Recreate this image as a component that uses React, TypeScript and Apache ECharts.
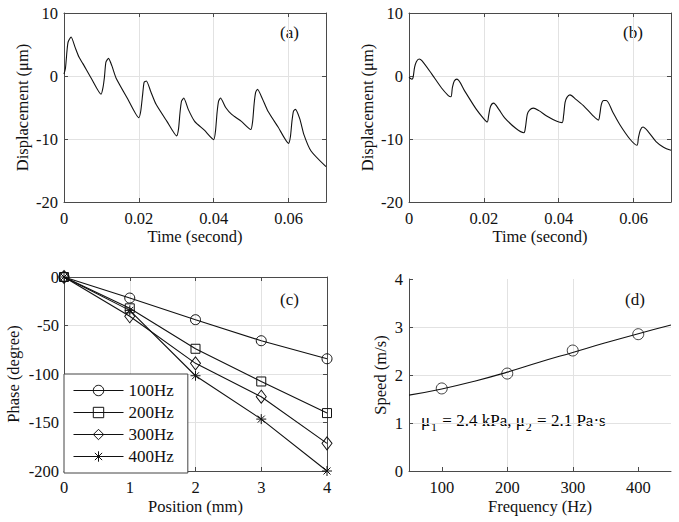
import React, { useEffect, useRef } from "react";
import * as echarts from "echarts";

const FONT = '"Liberation Serif", "Times New Roman", serif';
const INK = "#111";
const AXIS = "#4a4a4a";
const GRIDC = "#e2e2e2";

// Panel (a): displacement vs time
const timeA = [0, 0.0004, 0.0008, 0.0011, 0.0019, 0.003, 0.004, 0.005, 0.0075, 0.0099, 0.0104, 0.0108, 0.0112, 0.0119, 0.0128, 0.0139, 0.017, 0.02, 0.0205, 0.021, 0.0214, 0.022, 0.0232, 0.0246, 0.0275, 0.0301, 0.0306, 0.031, 0.0314, 0.032, 0.0332, 0.0349, 0.0375, 0.04, 0.0405, 0.0409, 0.0413, 0.0418, 0.0432, 0.0448, 0.0474, 0.0499, 0.0504, 0.0508, 0.0512, 0.0517, 0.053, 0.0545, 0.0572, 0.06, 0.0605, 0.0609, 0.0613, 0.0618, 0.063, 0.0641, 0.066, 0.07];
const dispA = [0.3, 1.3, 4.0, 5.4, 6.2, 4.5, 3.0, 2.0, -0.6, -2.9, -1.9, -0.2, 2.2, 2.8, 1.6, -0.3, -3.6, -6.6, -5.6, -3.0, -1.0, -0.8, -2.5, -4.5, -7.2, -9.5, -8.4, -5.8, -4.0, -3.5, -5.3, -7.2, -8.6, -10.1, -8.6, -5.8, -4.0, -3.5, -5.0, -6.1, -7.2, -8.5, -7.2, -4.4, -2.6, -2.1, -3.6, -5.6, -8.1, -10.7, -9.6, -7.2, -5.6, -5.3, -6.8, -9.3, -11.9, -14.4];

// Panel (b): displacement vs time
const timeB = [0, 0.0004, 0.0008, 0.0011, 0.0015, 0.002, 0.0027, 0.0035, 0.0061, 0.0087, 0.0105, 0.0112, 0.0116, 0.0121, 0.0128, 0.0149, 0.018, 0.02, 0.0209, 0.0213, 0.0218, 0.0226, 0.024, 0.0255, 0.0285, 0.0307, 0.0311, 0.0316, 0.0322, 0.0332, 0.0347, 0.0369, 0.0395, 0.0409, 0.0413, 0.0417, 0.0422, 0.043, 0.0446, 0.0466, 0.049, 0.0506, 0.051, 0.0514, 0.052, 0.0527, 0.0545, 0.0563, 0.059, 0.0609, 0.0613, 0.0618, 0.0625, 0.064, 0.066, 0.068, 0.07];
const dispB = [-0.2, -0.4, -0.5, -0.2, 1.4, 2.3, 2.7, 2.4, 0.3, -1.9, -3.1, -3.3, -1.8, -0.8, -0.5, -2.4, -5.3, -6.8, -7.3, -6.2, -4.8, -4.3, -5.3, -6.6, -8.3, -9.0, -8.2, -6.1, -5.4, -5.1, -5.5, -6.4, -7.2, -7.4, -6.3, -4.2, -3.4, -3.0, -3.7, -4.7, -6.2, -7.0, -6.0, -4.5, -3.9, -3.9, -5.8, -7.7, -10.0, -11.0, -9.8, -8.6, -8.1, -8.9, -10.4, -11.3, -11.8];

// Panel (c): phase vs position
const positions = [0, 1, 2, 3, 4];
const phase100 = [0, -21.7, -44, -65.7, -84.3];
const phase200 = [0, -32.3, -74, -107.7, -140.3];
const phase300 = [0, -40.5, -89, -123.4, -171.5];
const phase400 = [0, -34.4, -101.8, -146.5, -200];
const legendNames = ["100Hz", "200Hz", "300Hz", "400Hz"];

// Panel (d): speed vs frequency
const freqMeasured = [100, 200, 300, 400];
const speedMeasured = [1.72, 2.03, 2.51, 2.85];
const freqFit = [50, 100, 150, 200, 250, 300, 350, 400, 450];
const speedFit = [1.58, 1.71, 1.87, 2.06, 2.27, 2.47, 2.67, 2.86, 3.04];

// Tick values
const ticksTime = [0, 0.02, 0.04, 0.06];
const ticksDisp = [-20, -10, 0, 10];
const ticksPos = [0, 1, 2, 3, 4];
const ticksPhase = [-200, -150, -100, -50, 0];
const ticksFreq = [100, 200, 300, 400];
const ticksSpeed = [0, 1, 2, 3, 4];

const ASTERISK = "path://M5,0L5,10M0,5L10,5M1.5,1.5L8.5,8.5M8.5,1.5L1.5,8.5";

const fmt = (v: number) => String(+Number(v).toFixed(4));

function mainAxis(gridIndex: number, min: number, max: number, ticks: number[], name: string, nameGap: number, position: string, labelMargin: number, extra: any = {}) {
  return {
    type: "value",
    gridIndex,
    min,
    max,
    position,
    name,
    nameLocation: "middle",
    nameGap,
    nameTextStyle: { fontFamily: FONT, fontSize: 16.5, color: INK },
    axisLine: { show: true, onZero: false, lineStyle: { color: AXIS, width: 1 } },
    axisTick: { show: true, inside: true, length: 4, customValues: ticks, lineStyle: { color: AXIS, width: 1 } },
    axisLabel: { show: true, customValues: ticks, margin: labelMargin, fontFamily: FONT, fontSize: 16.5, color: INK, formatter: fmt },
    splitLine: { show: true, lineStyle: { color: GRIDC, width: 1 } },
    ...extra,
  };
}

function mirrorAxis(gridIndex: number, min: number, max: number, ticks: number[], position: string) {
  return {
    type: "value",
    gridIndex,
    min,
    max,
    position,
    axisLine: { show: true, onZero: false, lineStyle: { color: AXIS, width: 1 } },
    axisTick: { show: true, inside: true, length: 4, customValues: ticks, lineStyle: { color: AXIS, width: 1 } },
    axisLabel: { show: false },
    splitLine: { show: false },
  };
}

const lineStyle = { color: INK, width: 1.1 };
const markerStyle = { color: "transparent", borderColor: INK, borderWidth: 1 };

function phaseSeries(name: string, values: number[], symbol: string, symbolSize: any) {
  return {
    type: "line",
    name,
    xAxisIndex: 4,
    yAxisIndex: 4,
    data: positions.map((p, i) => [p, values[i]]),
    symbol,
    symbolSize,
    showSymbol: true,
    clip: false,
    lineStyle,
    itemStyle: markerStyle,
    emphasis: { disabled: true },
  };
}

export default function App() {
  const ref = useRef<HTMLDivElement>(null);
  useEffect(() => {
    if (!ref.current) return;
    const chart = echarts.init(ref.current, undefined, { renderer: "svg" });
    const option: any = {
      animation: false,
      backgroundColor: "#fff",
      textStyle: { fontFamily: FONT },
      grid: [
        { left: 64, top: 13, width: 262, height: 189, outerBoundsMode: "none" },
        { left: 409, top: 13, width: 262, height: 189, outerBoundsMode: "none" },
        { left: 64, top: 277, width: 263, height: 194, outerBoundsMode: "none" },
        { left: 409, top: 279, width: 262, height: 192, outerBoundsMode: "none" },
      ],
      xAxis: [
        mainAxis(0, 0, 0.07, ticksTime, "Time (second)", 25, "bottom", 8),
        mirrorAxis(0, 0, 0.07, ticksTime, "top"),
        mainAxis(1, 0, 0.07, ticksTime, "Time (second)", 25, "bottom", 8),
        mirrorAxis(1, 0, 0.07, ticksTime, "top"),
        mainAxis(2, 0, 4, ticksPos, "Position (mm)", 27, "bottom", 8),
        mirrorAxis(2, 0, 4, ticksPos, "top"),
        mainAxis(3, 50, 450, ticksFreq, "Frequency (Hz)", 27, "bottom", 8, { splitLine: { show: true, showMaxLine: false, showMinLine: false, lineStyle: { color: GRIDC, width: 1 } } }),
      ],
      yAxis: [
        mainAxis(0, -20, 10, ticksDisp, "Displacement (μm)", 33, "left", 6),
        mirrorAxis(0, -20, 10, ticksDisp, "right"),
        mainAxis(1, -20, 10, ticksDisp, "Displacement (μm)", 33, "left", 6),
        mirrorAxis(1, -20, 10, ticksDisp, "right"),
        mainAxis(2, -200, 0, ticksPhase, "Phase (degree)", 42, "left", 5),
        mirrorAxis(2, -200, 0, ticksPhase, "right"),
        mainAxis(3, 0, 4, ticksSpeed, "Speed (m/s)", 20, "left", 6, { splitLine: { show: true, showMaxLine: false, showMinLine: false, lineStyle: { color: GRIDC, width: 1 } } }),
      ],
      legend: {
        data: legendNames,
        orient: "vertical",
        left: 64,
        top: 374,
        backgroundColor: "#fff",
        borderColor: "#444",
        borderWidth: 1,
        borderRadius: 0,
        padding: [8, 14, 8, 9],
        itemWidth: 50,
        itemHeight: 13,
        itemGap: 5,
        selectedMode: false,
        textStyle: { fontFamily: FONT, fontSize: 17, color: INK, lineHeight: 16 },
        itemStyle: { color: "transparent", borderColor: INK, borderWidth: 1 },
        lineStyle: { color: INK, width: 1 },
      },
      series: [
        {
          type: "line",
          xAxisIndex: 0,
          yAxisIndex: 0,
          data: timeA.map((t, i) => [t, dispA[i]]),
          showSymbol: false,
          symbol: "none",
          smooth: 0.2,
          lineStyle,
        },
        {
          type: "line",
          xAxisIndex: 2,
          yAxisIndex: 2,
          data: timeB.map((t, i) => [t, dispB[i]]),
          showSymbol: false,
          symbol: "none",
          smooth: 0.3,
          lineStyle,
        },
        phaseSeries("100Hz", phase100, "circle", 10),
        phaseSeries("200Hz", phase200, "rect", 9),
        phaseSeries("300Hz", phase300, "diamond", [10, 13]),
        phaseSeries("400Hz", phase400, ASTERISK, 10),
        {
          type: "line",
          xAxisIndex: 6,
          yAxisIndex: 6,
          data: freqFit.map((f, i) => [f, speedFit[i]]),
          showSymbol: false,
          symbol: "none",
          smooth: true,
          lineStyle,
        },
        {
          type: "scatter",
          xAxisIndex: 6,
          yAxisIndex: 6,
          data: freqMeasured.map((f, i) => [f, speedMeasured[i]]),
          symbol: "circle",
          symbolSize: 11,
          itemStyle: markerStyle,
        },
      ],
      graphic: [
        { type: "text", left: 280, top: 24, style: { text: "(a)", font: `17px ${FONT}`, fill: INK } },
        { type: "text", left: 623, top: 24, style: { text: "(b)", font: `17px ${FONT}`, fill: INK } },
        { type: "text", left: 280, top: 291, style: { text: "(c)", font: `17px ${FONT}`, fill: INK } },
        { type: "text", left: 625, top: 291, style: { text: "(d)", font: `17px ${FONT}`, fill: INK } },
        {
          type: "text",
          left: 421,
          top: 412,
          style: {
            text: "{m|μ}{s|1}{m| = 2.4 kPa, μ}{s|2}{m| = 2.1 Pa·s}",
            rich: {
              m: { fontFamily: FONT, fontSize: 17, color: INK, lineHeight: 20, verticalAlign: "top" },
              s: { fontFamily: FONT, fontSize: 12, color: INK, lineHeight: 20, verticalAlign: "top", padding: [9, 1, 0, 1] },
            },
          },
        },
      ],
    };
    chart.setOption(option);
    return () => chart.dispose();
  }, []);
  return (
    <div
      ref={ref}
      style={{ position: "absolute", left: 0, top: 0, width: 679, height: 522, background: "#fff" }}
    />
  );
}
